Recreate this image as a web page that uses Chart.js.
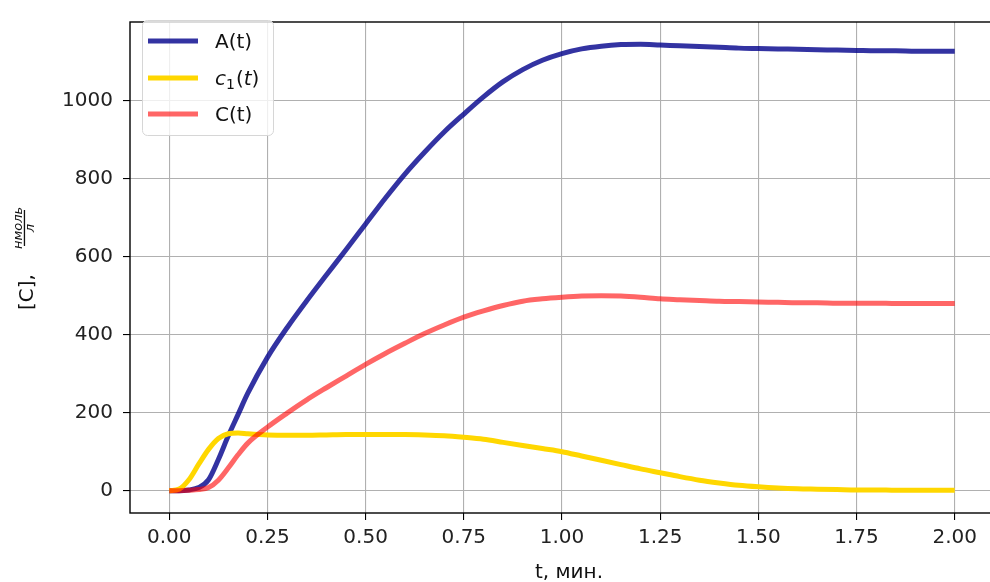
<!DOCTYPE html>
<html lang="ru">
<head>
    <meta charset="UTF-8">
    <title>A(t), c1(t), C(t)</title>
    <script src="https://cdn.jsdelivr.net/npm/chart.js"></script>
    <style>
        html, body { margin: 0; padding: 0; background: #fff; overflow: hidden; }
        #wrap { width: 1000px; height: 582px; }
    </style>
</head>
<body>
    <div id="wrap">
        <canvas id="chart" width="1000" height="582"></canvas>
    </div>
    <script>
        // время, мин.
        const tVals = [0, 0.025, 0.05, 0.075, 0.1, 0.125, 0.15, 0.175, 0.2,
            0.25, 0.3, 0.35, 0.4, 0.45, 0.5, 0.55, 0.6, 0.65, 0.7, 0.75,
            0.8, 0.85, 0.9, 0.95, 1.0, 1.05, 1.1, 1.15, 1.2, 1.25,
            1.3, 1.35, 1.4, 1.45, 1.5, 1.55, 1.6, 1.65, 1.7, 1.75,
            1.8, 1.85, 1.9, 1.95, 2.0];

        const A = [0, 0, 2, 8, 28, 80, 140, 195, 250,
            342, 418, 487, 553, 618, 684, 750, 812, 868, 920, 966,
            1010, 1049, 1080, 1104, 1121, 1133, 1140, 1144, 1145, 1143,
            1141, 1139, 1137, 1135, 1134, 1133, 1132, 1131, 1130, 1129,
            1128, 1128, 1127, 1127, 1127];

        const c1 = [0, 4, 28, 68, 106, 134, 146, 148, 146,
            143, 142, 142, 143, 144, 144, 144, 144, 143, 141, 137,
            132, 124, 116, 108, 100, 89, 78, 67, 56, 46,
            36, 27, 20, 14, 10, 7, 5, 4, 3, 2,
            2, 1, 1, 1, 1];

        const C = [0, 0, 1, 3, 8, 27, 58, 92, 122,
            163, 199, 233, 264, 294, 324, 352, 378, 403, 425, 445,
            461, 475, 486, 492, 496, 499, 500, 499, 496, 492,
            490, 488, 486, 485, 484, 483, 482, 482, 481, 481,
            481, 480, 480, 480, 480];

        const xTicks = [0, 0.25, 0.5, 0.75, 1.0, 1.25, 1.5, 1.75, 2.0];
        const yTicks = [0, 200, 400, 600, 800, 1000];

        const FONT = '"DejaVu Sans", sans-serif';

        function pts(ys) {
            return tVals.map((t, i) => ({ x: t, y: ys[i] }));
        }

        // рамка осей как в matplotlib
        const framePlugin = {
            id: 'frame',
            afterDatasetsDraw(chart) {
                const { ctx, chartArea: a } = chart;
                ctx.save();
                ctx.strokeStyle = '#000';
                ctx.lineWidth = 1.4;
                ctx.strokeRect(a.left, a.top, a.right - a.left, a.bottom - a.top);
                ctx.restore();
            }
        };

        // подписи осей (дробь нмоль/л рисуем вручную)
        const axisTitles = {
            id: 'axisTitles',
            afterDraw(chart) {
                const ctx = chart.ctx;
                ctx.save();
                ctx.fillStyle = '#111';
                ctx.font = '20px ' + FONT;
                ctx.textAlign = 'center';
                ctx.textBaseline = 'alphabetic';
                ctx.fillText('t, мин.', 569, 578);

                ctx.translate(33, 310);
                ctx.rotate(-Math.PI / 2);
                ctx.textAlign = 'left';
                ctx.fillText('[C],', 0, 0);
                ctx.textAlign = 'center';
                ctx.font = 'italic 13px ' + FONT;
                ctx.fillText('нмоль', 82, -11);
                ctx.fillText('л', 82, 1);
                ctx.fillRect(64, -9.2, 36, 1.3);
                ctx.restore();
            }
        };

        const legendPlugin = {
            id: 'boxLegend',
            afterDraw(chart) {
                const ctx = chart.ctx;
                ctx.save();
                ctx.beginPath();
                ctx.roundRect(142.5, 20.5, 131, 115, 5);
                ctx.fillStyle = 'rgba(255,255,255,0.8)';
                ctx.fill();
                ctx.strokeStyle = '#d6d6d6';
                ctx.lineWidth = 1;
                ctx.stroke();

                const rows = [41, 78, 114];
                chart.data.datasets.forEach((ds, i) => {
                    const y = rows[i];
                    ctx.strokeStyle = ds.borderColor;
                    ctx.lineWidth = ds.borderWidth;
                    ctx.beginPath();
                    ctx.moveTo(148, y);
                    ctx.lineTo(198, y);
                    ctx.stroke();

                    ctx.fillStyle = '#111';
                    ctx.textAlign = 'left';
                    ctx.textBaseline = 'alphabetic';
                    const base = y + 7;
                    if (i === 1) {
                        let x = 215;
                        ctx.font = 'italic 20px ' + FONT;
                        ctx.fillText('c', x, base); x += ctx.measureText('c').width;
                        ctx.font = '14px ' + FONT;
                        ctx.fillText('1', x, base + 4); x += ctx.measureText('1').width + 1;
                        ctx.font = '20px ' + FONT;
                        ctx.fillText('(', x, base); x += ctx.measureText('(').width;
                        ctx.font = 'italic 20px ' + FONT;
                        ctx.fillText('t', x, base); x += ctx.measureText('t').width;
                        ctx.font = '20px ' + FONT;
                        ctx.fillText(')', x, base);
                    } else {
                        ctx.font = '20px ' + FONT;
                        ctx.fillText(ds.label, 215, base);
                    }
                });
                ctx.restore();
            }
        };

        const ctx = document.getElementById('chart').getContext('2d');
        new Chart(ctx, {
            type: 'line',
            data: {
                datasets: [
                    { label: 'A(t)', data: pts(A), borderColor: 'rgba(0,0,139,0.8)', borderWidth: 5, order: 3 },
                    { label: 'c1(t)', data: pts(c1), borderColor: 'rgb(255,215,0)', borderWidth: 5, order: 2 },
                    { label: 'C(t)', data: pts(C), borderColor: 'rgba(255,0,0,0.6)', borderWidth: 5, order: 1 }
                ]
            },
            options: {
                responsive: false,
                animation: false,
                devicePixelRatio: 1,
                layout: { padding: { top: 9, right: 6, left: 0, bottom: 0 } },
                elements: {
                    point: { radius: 0 },
                    line: { cubicInterpolationMode: 'monotone', fill: false, borderCapStyle: 'butt' }
                },
                plugins: {
                    legend: { display: false },
                    tooltip: { enabled: false }
                },
                scales: {
                    x: {
                        type: 'linear',
                        min: -0.1,
                        max: 2.1,
                        afterBuildTicks: (s) => { s.ticks = xTicks.map(v => ({ value: v })); },
                        afterFit: (s) => { s.height = 69; },
                        ticks: {
                            callback: (v) => v.toFixed(2),
                            color: '#222',
                            font: { family: FONT, size: 20 },
                            padding: 6,
                            maxRotation: 0,
                            autoSkip: false
                        },
                        grid: { color: '#b0b0b0', lineWidth: 1.1, tickColor: '#000', tickLength: 7 },
                        border: { display: false }
                    },
                    y: {
                        min: -57.2,
                        max: 1202,
                        afterBuildTicks: (s) => { s.ticks = yTicks.map(v => ({ value: v })); },
                        afterFit: (s) => { s.width = 130; },
                        ticks: {
                            callback: (v) => String(v),
                            color: '#222',
                            font: { family: FONT, size: 20 },
                            padding: 10,
                            autoSkip: false
                        },
                        grid: { color: '#b0b0b0', lineWidth: 1.1, tickColor: '#000', tickLength: 7 },
                        border: { display: false }
                    }
                }
            },
            plugins: [framePlugin, axisTitles, legendPlugin]
        });
    </script>
</body>
</html>
